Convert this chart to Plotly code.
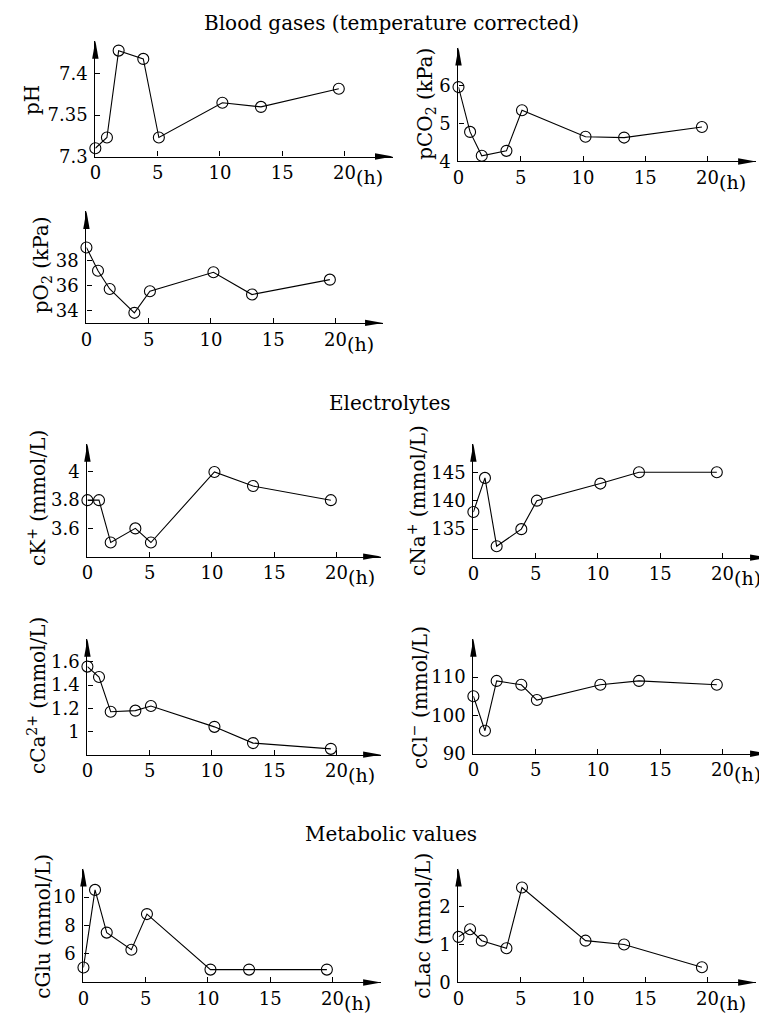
import plotly.graph_objects as go

W, H = 767, 1028
FONT = "DejaVu Serif"
FS_TICK = 18
FS_UNIT = 19
FS_TEXT = 20

# ---------------- data ----------------
hours = [0, 0.93, 1.87, 3.85, 5.1, 10.2, 13.3, 19.55]

ph = [7.31, 7.323, 7.428, 7.418, 7.323, 7.365, 7.36, 7.382]
pco2 = [5.96, 4.78, 4.15, 4.28, 5.35, 4.65, 4.63, 4.91]
po2 = [39.07, 37.2, 35.73, 33.81, 35.55, 37.07, 35.28, 36.48]
ck = [3.8, 3.8, 3.5, 3.6, 3.5, 4.0, 3.9, 3.8]
cna = [138, 144, 132, 135, 140, 143, 145, 145]
cca = [1.56, 1.47, 1.17, 1.18, 1.22, 1.04, 0.9, 0.85]
ccl = [105, 96, 109, 108, 104, 108, 109, 108]
cglu = [5.05, 10.5, 7.5, 6.3, 8.8, 4.9, 4.9, 4.9]
clac = [1.2, 1.4, 1.1, 0.9, 2.5, 1.1, 1.0, 0.4]

x_ticks = [0, 5, 10, 15, 20]
ph_ticks, ph_labels = [7.3, 7.35, 7.4], ["7.3", "7.35", "7.4"]
pco2_ticks = [4, 5, 6]
po2_ticks = [34, 36, 38]
ck_ticks, ck_labels = [3.6, 3.8, 4.0], ["3.6", "3.8", "4"]
cna_ticks = [135, 140, 145]
cca_ticks, cca_labels = [1.0, 1.2, 1.4, 1.6], ["1", "1.2", "1.4", "1.6"]
ccl_ticks = [90, 100, 110]
cglu_ticks = [6, 8, 10]
clac_ticks = [0, 1, 2]

section_titles = ["Blood gases (temperature corrected)", "Electrolytes", "Metabolic values"]
x_unit = "(h)"

# ---------------- panel layout (pixels) ----------------
PX_PER_H = 12.55
panels = [
    dict(y=ph, tv=ph_ticks, tt=ph_labels, yr=[7.3, 7.44], x0=82, tx=382, base=150, ty=33,
         label="pH", lx=18, ly=93),
    dict(y=pco2, tv=pco2_ticks, tt=None, yr=[4, 7], x0=448, tx=748, base=155, ty=40,
         label="pCO<sub>2</sub> (kPa)", lx=415, ly=97),
    dict(y=po2, tv=po2_ticks, tt=None, yr=[33, 42], x0=73, tx=372, base=318, ty=205,
         label="pO<sub>2</sub> (kPa)", lx=29, ly=259),
    dict(y=ck, tv=ck_ticks, tt=ck_labels, yr=[3.4, 4.2], x0=74, tx=370, base=554, ty=440,
         label="cK<sup>+</sup> (mmol/L)", lx=23, ly=495),
    dict(y=cna, tv=cna_ticks, tt=None, yr=[130, 150], x0=463, tx=760, base=555, ty=440,
         label="cNa<sup>+</sup> (mmol/L)", lx=406, ly=497),
    dict(y=cca, tv=cca_ticks, tt=cca_labels, yr=[0.8, 1.8], x0=74, tx=370, base=754, ty=637,
         label="cCa<sup>2+</sup> (mmol/L)", lx=23, ly=694),
    dict(y=ccl, tv=ccl_ticks, tt=None, yr=[90, 120], x0=463, tx=760, base=753, ty=637,
         label="cCl<sup>−</sup> (mmol/L)", lx=408, ly=696),
    dict(y=cglu, tv=cglu_ticks, tt=None, yr=[4, 12], x0=70, tx=370, base=984, ty=869,
         label="cGlu (mmol/L)", lx=29, ly=927),
    dict(y=clac, tv=clac_ticks, tt=None, yr=[0, 3], x0=448, tx=748, base=984, ty=869,
         label="cLac (mmol/L)", lx=412, ly=927),
]
title_pos = [(380, 15), (379, 399), (380, 834)]


def px(xp):
    return xp / W


def py(yp):
    return 1 - yp / H


fig = go.Figure()
annotations = []
shapes = []
tick_font = dict(family=FONT, size=FS_TICK, color="black")
unit_font = dict(family=FONT, size=FS_UNIT, color="black")
text_font = dict(family=FONT, size=FS_TEXT, color="black")

for i, p in enumerate(panels):
    k = "" if i == 0 else str(i + 1)
    xa, ya = "x" + k, "y" + k
    fig.add_trace(go.Scatter(
        x=hours, y=p["y"], xaxis=xa, yaxis=ya, mode="lines+markers",
        line=dict(color="black", width=1.1),
        marker=dict(symbol="circle-open", size=11, color="black", line=dict(width=1.1, color="black")),
        cliponaxis=False, showlegend=False, hoverinfo="skip"))
    xmax = (p["tx"] - p["x0"]) / PX_PER_H
    common = dict(showgrid=False, zeroline=False, showline=True, linecolor="black", linewidth=1.2,
                  ticks="inside", ticklen=5, tickwidth=1, tickcolor="black", tickfont=tick_font)
    fig.update_layout(**{
        ("xaxis" + k): dict(common, domain=[px(p["x0"]), px(p["tx"])], range=[0, xmax],
                            anchor=ya, tickmode="array", tickvals=x_ticks,
                            ticktext=[str(v) for v in x_ticks], ticklabelstandoff=0),
        ("yaxis" + k): dict(common, domain=[py(p["base"]), py(p["ty"])], range=p["yr"],
                            anchor=xa, tickmode="array", tickvals=p["tv"],
                            ticktext=p["tt"] if p["tt"] else [str(v) for v in p["tv"]],
                            ticklabelstandoff=3),
    })
    # arrowheads
    shapes.append(dict(type="path", xref="paper", yref="paper", xsizemode="pixel", ysizemode="pixel",
                       xanchor=px(p["tx"]), yanchor=py(p["base"]),
                       path="M -18,-3.2 L 0,0 L -18,3.2 Z", fillcolor="black", line=dict(width=0)))
    shapes.append(dict(type="path", xref="paper", yref="paper", xsizemode="pixel", ysizemode="pixel",
                       xanchor=px(p["x0"]), yanchor=py(p["ty"]),
                       path="M -3.2,-18 L 0,0 L 3.2,-18 Z", fillcolor="black", line=dict(width=0)))
    # y label
    annotations.append(dict(text=p["label"], xref="paper", yref="paper", x=px(p["lx"]), y=py(p["ly"]),
                            textangle=-90, showarrow=False, font=text_font, xanchor="center", yanchor="middle"))
    # (h) unit
    annotations.append(dict(text=x_unit, xref=xa, yref="paper", x=22, y=py(p["base"] + 21),
                            showarrow=False, font=unit_font, xanchor="center", yanchor="middle"))

for t, (tx, ty) in zip(section_titles, title_pos):
    annotations.append(dict(text=t, xref="paper", yref="paper", x=px(tx), y=py(ty), showarrow=False,
                            font=text_font, xanchor="center", yanchor="middle"))

fig.update_layout(width=W, height=H, margin=dict(l=0, r=0, t=0, b=0),
                  paper_bgcolor="white", plot_bgcolor="white",
                  annotations=annotations, shapes=shapes, showlegend=False)

fig.write_html("out.html")
